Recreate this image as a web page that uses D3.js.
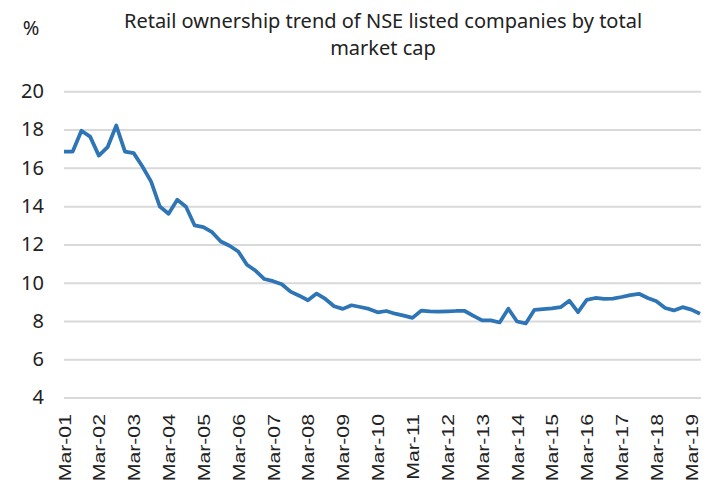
<!DOCTYPE html>
<html>
<head>
<meta charset="utf-8">
<script src="https://cdn.jsdelivr.net/npm/d3@7"></script>
<style>
  html, body { margin : 0; padding : 0; background : #fff; }
  svg { display : block; }
</style>
</head>
<body>
<script>
const
  TITLE_LINES = ['Retail ownership trend of NSE listed companies by total', 'market cap'],
  UNIT_LABEL = '%',
  QUARTERS = ['Mar', 'Jun', 'Sep', 'Dec'],
  FIRST_YEAR = 2001,
  Y_TICKS = [4, 6, 8, 10, 12, 14, 16, 18, 20],
  TICK_LABELS = ['Mar-01', 'Mar-02', 'Mar-03', 'Mar-04', 'Mar-05', 'Mar-06', 'Mar-07',
    'Mar-08', 'Mar-09', 'Mar-10', 'Mar-11', 'Mar-12', 'Mar-13', 'Mar-14', 'Mar-15',
    'Mar-16', 'Mar-17', 'Mar-18', 'Mar-19'];

// retail ownership, % of total market cap, quarterly from Mar-01
const RETAIL_SHARE = [
  16.85, 16.85, 17.94, 17.63, 16.64, 17.08, 18.21, 16.85, 16.77, 16.07,
  15.28, 13.98, 13.60, 14.33, 13.97, 12.99, 12.90, 12.64, 12.15, 11.93,
  11.63, 10.94, 10.62, 10.19, 10.08, 9.92, 9.53, 9.32, 9.08, 9.43,
  9.15, 8.77, 8.63, 8.82, 8.73, 8.63, 8.45, 8.52, 8.38, 8.28,
  8.16, 8.54, 8.50, 8.49, 8.50, 8.52, 8.52, 8.27, 8.03, 8.03,
  7.92, 8.64, 7.97, 7.87, 8.58, 8.62, 8.66, 8.72, 9.06, 8.46,
  9.10, 9.20, 9.15, 9.17, 9.25, 9.35, 9.42, 9.20, 9.03, 8.68,
  8.55, 8.72, 8.59, 8.38
];

// quarter category names, Mar-01, Jun-01, ...
const categories = RETAIL_SHARE.map((v, i) => {
  let yr = (FIRST_YEAR + Math.floor(i / 4)) % 100;
  return QUARTERS[i % 4] + '-' + String(yr).padStart(2, '0');
});

const
  width = 711,
  height = 482,
  margin = { top : 91, right : 11, bottom : 84, left : 64 };

let svg = d3.select('body').append('svg')
  .attr('width', width)
  .attr('height', height);

let
  x = d3.scalePoint()
    .domain(categories)
    .range([margin.left, width - margin.right]),
  y = d3.scaleLinear()
    .domain([4, 20])
    .range([height - margin.bottom - 0.5, margin.top + 0.3]);

// title
svg.append('g')
  .selectAll('text')
  .data(TITLE_LINES)
  .enter()
  .append('text')
  .attr('x', 383)
  .attr('y', (d, i) => 28 + i * 27)
  .attr('text-anchor', 'middle')
  .style('font-family', '"Noto Sans", sans-serif')
  .style('font-size', '20px')
  .style('fill', '#222')
  .text((d) => d);

svg.append('text')
  .attr('x', 31)
  .attr('y', 35)
  .attr('text-anchor', 'middle')
  .style('font-family', '"Noto Sans", sans-serif')
  .style('font-size', '20px')
  .style('fill', '#222')
  .text(UNIT_LABEL);

// gridlines + y labels
let yAxis = svg.append('g')
  .attr('transform', `translate(${margin.left},0)`)
  .call(d3.axisLeft(y)
    .tickValues(Y_TICKS)
    .tickSize(-(width - margin.left - margin.right + 1))
    .tickPadding(20)
    .tickFormat(d3.format('d')));

yAxis.select('.domain').remove();
yAxis.selectAll('.tick line')
  .attr('stroke', '#d9d9d9')
  .attr('stroke-width', 2);
yAxis.selectAll('.tick text')
  .style('font-family', '"Noto Sans", sans-serif')
  .style('font-size', '20px')
  .style('fill', '#222');

// x labels, only the Mar quarters
let xAxis = svg.append('g')
  .attr('transform', `translate(0,${height - margin.bottom})`)
  .call(d3.axisBottom(x)
    .tickValues(TICK_LABELS)
    .tickSize(0)
    .tickPadding(0));

xAxis.select('.domain').remove();
xAxis.selectAll('.tick text')
  .attr('text-anchor', 'end')
  .attr('dy', null)
  .attr('y', 0)
  .attr('transform', 'translate(6,16) rotate(-90) scale(1.25,1)')
  .style('font-family', '"Liberation Sans", Arial, sans-serif')
  .style('font-size', '17px')
  .style('fill', '#222');

// the line
let line = d3.line()
  .x((d, i) => x(categories[i]))
  .y((d) => y(d));

svg.append('path')
  .datum(RETAIL_SHARE)
  .attr('d', line)
  .attr('fill', 'none')
  .attr('stroke', '#2e75b6')
  .attr('stroke-width', 3.75)
  .attr('stroke-linejoin', 'round');
</script>
</body>
</html>
